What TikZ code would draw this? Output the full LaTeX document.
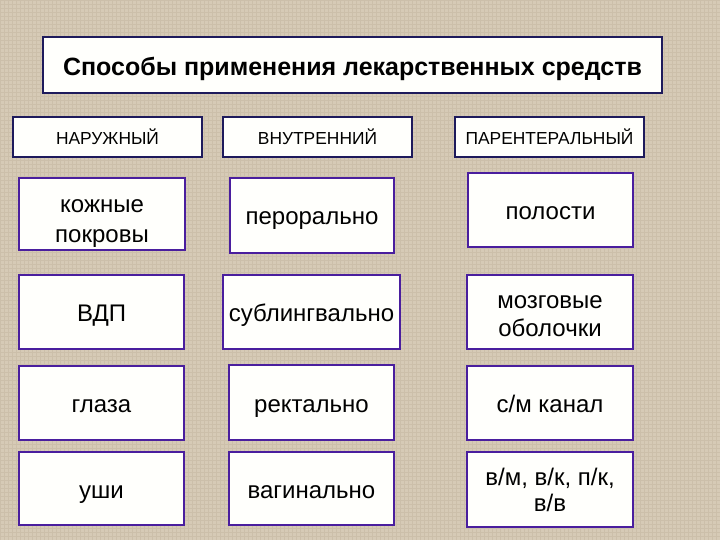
\documentclass[tikz,border=0pt]{standalone}
\usepackage{fontspec}
\setmainfont{Liberation Sans}
\usepackage{xcolor}
\definecolor{bgcolor}{HTML}{D6CAB6}
\definecolor{gridcolor}{HTML}{C4B6A0}
\definecolor{headborder}{HTML}{1E1A5C}
\definecolor{itemborder}{HTML}{4A1E9E}
\definecolor{boxfill}{HTML}{FFFFFC}
\usepackage{tikz}
\usetikzlibrary{positioning}
\tikzset{
    titlebox/.style={
        rectangle,
        draw=headborder,
        fill=boxfill,
        text=black,
        line width=2.4pt,
        inner sep=0pt,
        align=center,
        font=\fontsize{25}{30}\selectfont\bfseries,
        execute at begin node={\rule[-5pt]{0pt}{31pt}},
    },
    headbox/.style={
        rectangle,
        draw=headborder,
        fill=boxfill,
        text=black,
        line width=2.4pt,
        inner sep=0pt,
        minimum width=189pt,
        minimum height=40pt,
        align=center,
        font=\fontsize{17.4}{21}\selectfont,
    },
    itembox/.style={
        rectangle,
        draw=itemborder,
        fill=boxfill,
        text=black,
        line width=2.4pt,
        inner sep=0pt,
        minimum width=165pt,
        minimum height=74pt,
        align=center,
        font=\fontsize{24}{30}\selectfont,
        execute at begin node={\rule[-6pt]{0pt}{31pt}},
    },
    twoline/.style 2 args={
        execute at begin node={},
        text height=#1,
        text depth=#2,
    },
}
\begin{document}
\begin{tikzpicture}[x=1pt,y=-1pt]
    % Background
    \fill[bgcolor] (0,0) rectangle (720,540);
    \useasboundingbox (0,0) rectangle (720,540);
    \draw[gridcolor, line width=0.5pt, opacity=0.5, step=4pt] (0,0) grid (720,540);

    % Title
    \node[titlebox, minimum width=619pt, minimum height=56pt] (title) at (352.5,65)
        {Способы применения лекарственных средств};

    % Headers
    \node[headbox] (outer) at (107.5,137) {НАРУЖНЫЙ};
    \node[headbox] (inner) at (317.5,137) {ВНУТРЕННИЙ};
    \node[headbox] (paren) at (549.5,137) {ПАРЕНТЕРАЛЬНЫЙ};

    % Outer routes
    \node[itembox, twoline={61pt}{5pt}, minimum width=166pt, minimum height=72pt] (skin) at (102,214) {кожные\\покровы};
    \node[itembox] (airway) at (101.5,312) {ВДП};
    \node[itembox] (eyes) at (101.5,403) {глаза};
    \node[itembox, minimum height=73pt] (ears) at (101.5,488.5) {уши};

    % Inner routes
    \node[itembox, minimum width=164pt, minimum height=75pt] (oral) at (312,215.5) {перорально};
    \node[itembox, minimum width=177pt] (sublin) at (311.5,312) {сублингвально};
    \node[itembox, minimum height=75pt] (rectal) at (311.5,402.5) {ректально};
    \node[itembox, minimum height=73pt] (vaginal) at (311.5,488.5) {вагинально};

    % Parenteral routes
    \node[itembox] (cavity) at (550.5,210) {полости};
    \node[itembox, twoline={48pt}{0pt}, minimum width=166pt] (meninx) at (550,312) {мозговые\\[-2pt]оболочки};
    \node[itembox, minimum width=166pt] (spinal) at (550,403) {с/м канал};
    \node[itembox, twoline={43pt}{0pt}, minimum width=166pt, minimum height=75pt] (inject) at (550,489.5) {в/м, в/к, п/к,\\[-4pt]в/в};
\end{tikzpicture}
\end{document}
